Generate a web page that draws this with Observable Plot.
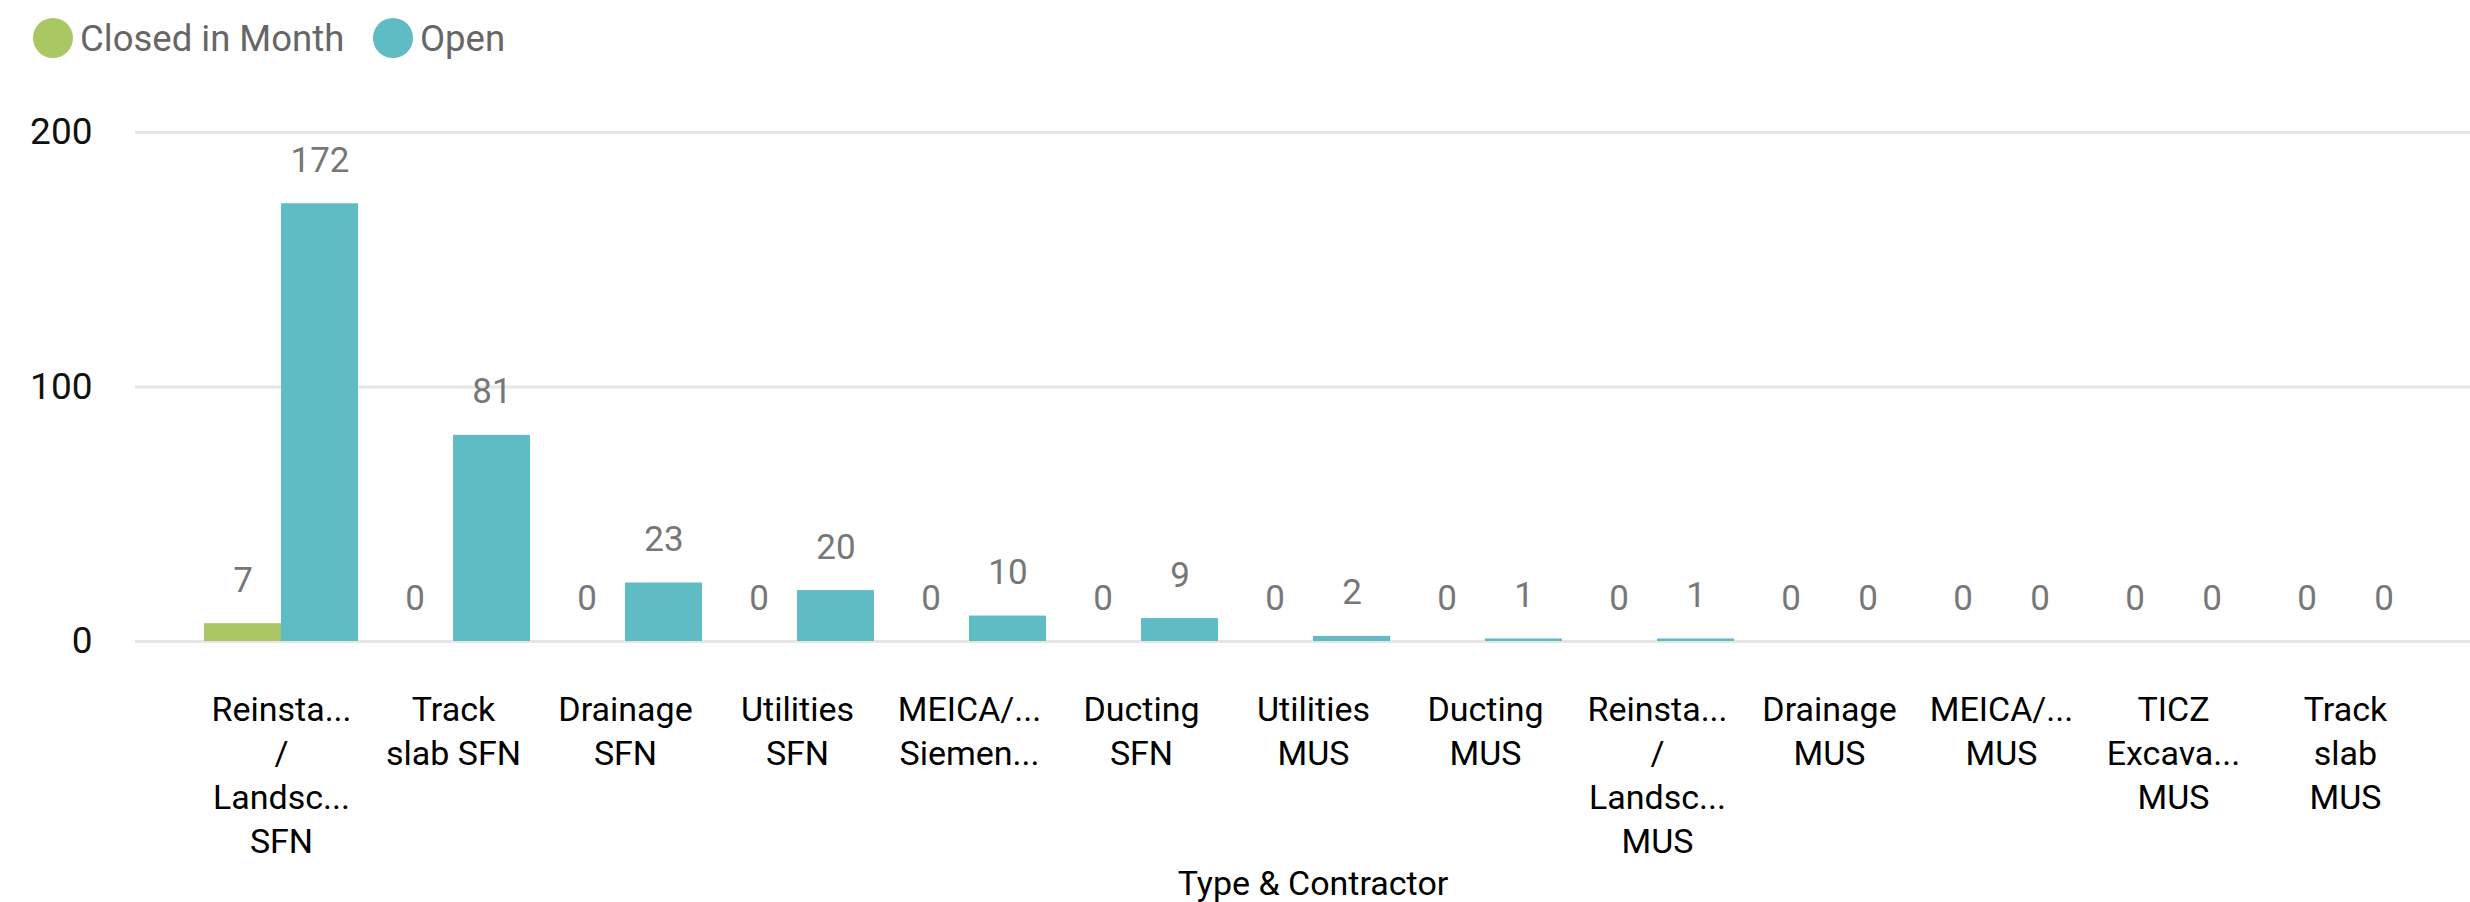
<!DOCTYPE html>
<html>
<head>
<meta charset="utf-8">
<script src="https://cdn.jsdelivr.net/npm/d3@7"></script>
<script src="https://cdn.jsdelivr.net/npm/@observablehq/plot@0.6"></script>
<style>
  html, body { margin: 0; padding: 0; background: #ffffff; }
  body { width: 2470px; height: 902px; overflow: hidden; font-family: Roboto, "Noto Sans", sans-serif; }
  #legend { height: 70px; position: relative; }
  .item { position: absolute; top: 18px; height: 40px; display: flex; align-items: center; font-size: 36.5px; color: #666666; }
  .dot { width: 40px; height: 40px; border-radius: 50%; margin-right: 7px; }
  #chart svg { display: block; }
</style>
</head>
<body>
<div id="legend"></div>
<div id="chart"></div>
<script>
// ---- data ----
const categories = [
  "Reinsta...\n/\nLandsc...\nSFN",
  "Track\nslab SFN",
  "Drainage\nSFN",
  "Utilities\nSFN",
  "MEICA/...\nSiemen...",
  "Ducting\nSFN",
  "Utilities\nMUS",
  "Ducting\nMUS",
  "Reinsta...\n/\nLandsc...\nMUS",
  "Drainage\nMUS",
  "MEICA/...\nMUS",
  "TICZ\nExcava...\nMUS",
  "Track\nslab\nMUS"
];
const closedInMonth = [7, 0, 0, 0, 0, 0, 0, 0, 0, 0, 0, 0, 0];
const openValues   = [172, 81, 23, 20, 10, 9, 2, 1, 1, 0, 0, 0, 0];
const seriesNames = ["Closed in Month", "Open"];
const seriesColors = ["#a9c863", "#5fbbc4"];
const yTicks = [0, 100, 200];
const xTitle = "Type & Contractor";

// ---- legend ----
const legend = document.getElementById("legend");
const legendLeft = [33, 373];
seriesNames.forEach((name, i) => {
  const item = document.createElement("div");
  item.className = "item";
  item.style.left = legendLeft[i] + "px";
  const dot = document.createElement("span");
  dot.className = "dot";
  dot.style.background = seriesColors[i];
  const label = document.createElement("span");
  label.textContent = name;
  item.appendChild(dot);
  item.appendChild(label);
  legend.appendChild(item);
});

// ---- table ----
const closedRows = categories.map((c, i) => ({cat: c, series: seriesNames[0], value: closedInMonth[i]}));
const openRows = categories.map((c, i) => ({cat: c, series: seriesNames[1], value: openValues[i]}));

const W = 2470, H = 832;
const xRange = [204, 2422];
const padInner = 18 / 172;
const step = (xRange[1] - xRange[0]) / (categories.length - padInner);
const half = step * (1 - padInner) / 2;

const chart = Plot.plot({
  width: W,
  height: H,
  marginLeft: 135,
  marginRight: 0,
  marginTop: 62,
  marginBottom: 261,
  style: {fontFamily: "Roboto, 'Noto Sans', sans-serif", background: "#ffffff", overflow: "visible"},
  x: {domain: categories, range: xRange, paddingInner: padInner, paddingOuter: 0},
  y: {domain: [0, 200]},
  color: {domain: seriesNames, range: seriesColors},
  marks: [
    Plot.ruleY(yTicks, {stroke: "#e6e6e6", strokeWidth: 3}),
    Plot.barY(closedRows, {x: "cat", y: "value", fill: "series", insetRight: half}),
    Plot.barY(openRows, {x: "cat", y: "value", fill: "series", insetLeft: half}),
    Plot.text(closedRows, {x: "cat", y: "value", text: d => String(d.value), dx: -half / 2, dy: -32, lineAnchor: "bottom", fill: "#777777", fontSize: 35}),
    Plot.text(openRows, {x: "cat", y: "value", text: d => String(d.value), dx: half / 2, dy: -32, lineAnchor: "bottom", fill: "#777777", fontSize: 35}),
    Plot.axisY(yTicks, {tickSize: 0, tickPadding: 43, fontSize: 37, fill: "#111111", label: null}),
    Plot.axisX({tickSize: 0, tickPadding: 48, fontSize: 34, lineHeight: 1.3, fill: "#000000", label: null}),
    Plot.text([xTitle], {frameAnchor: "bottom", dx: 10, dy: 253, lineAnchor: "bottom", fontSize: 34, fill: "#000000"})
  ]
});
document.getElementById("chart").appendChild(chart);
</script>
</body>
</html>
